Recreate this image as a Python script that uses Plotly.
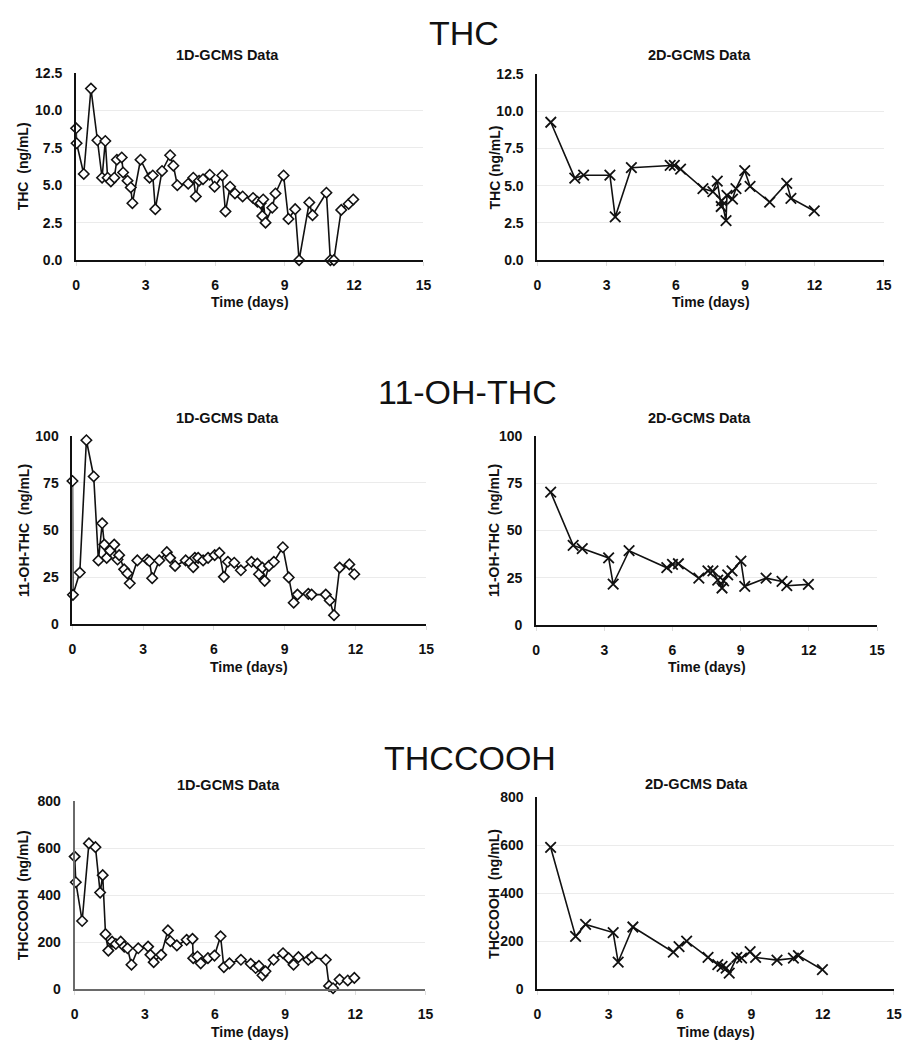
import plotly.graph_objects as go

# ---------------- data ----------------
thc_1d_days = [0.00, 0.02, 0.33, 0.64, 0.92, 1.12, 1.26, 1.36, 1.50, 1.65, 1.76, 1.97, 2.03, 2.22, 2.36, 2.43,
               2.78, 3.17, 3.31, 3.42, 3.71, 4.06, 4.20, 4.37, 4.84, 5.06, 5.17, 5.31, 5.48, 5.77, 5.98, 6.31,
               6.45, 6.65, 6.86, 7.19, 7.64, 7.83, 7.97, 8.04, 8.08, 8.18, 8.47, 8.61, 8.96, 9.17, 9.46, 9.63,
               10.07, 10.21, 10.81, 10.98, 11.13, 11.45, 11.77, 11.97]
thc_1d_vals = [8.8, 7.8, 5.75, 11.45, 8.0, 5.5, 7.95, 5.5, 5.25, 5.5, 6.7, 6.85, 5.85, 5.3, 4.85, 3.8,
               6.7, 5.5, 5.65, 3.4, 5.95, 7.0, 6.3, 5.0, 5.1, 5.5, 4.25, 5.3, 5.4, 5.7, 4.9, 5.65,
               3.25, 4.9, 4.45, 4.25, 4.15, 3.9, 3.8, 2.95, 4.05, 2.5, 3.5, 4.45, 5.65, 2.75, 3.4, 0.0,
               3.85, 3.0, 4.5, 0.0, 0.0, 3.35, 3.75, 4.05]

thc_2d_days = [0.58, 1.62, 2.00, 3.14, 3.37, 4.07, 5.75, 5.93, 6.20, 7.17, 7.60, 7.79, 7.96, 7.98, 8.17,
               8.21, 8.45, 8.60, 8.98, 9.21, 10.06, 10.80, 10.98, 11.99]
thc_2d_vals = [9.25, 5.5, 5.7, 5.7, 2.9, 6.2, 6.35, 6.35, 6.1, 4.8, 4.6, 5.3, 3.6, 4.0, 2.65,
               4.35, 4.1, 4.8, 6.0, 4.95, 3.9, 5.15, 4.15, 3.3]

oh_1d_days = [0.00, 0.02, 0.31, 0.59, 0.90, 1.10, 1.26, 1.35, 1.45, 1.59, 1.77, 1.91, 1.98, 2.19, 2.33, 2.43,
              2.75, 3.17, 3.26, 3.38, 3.68, 4.00, 4.14, 4.35, 4.80, 4.98, 5.12, 5.19, 5.33, 5.54, 5.75, 6.03,
              6.23, 6.42, 6.59, 6.86, 7.14, 7.59, 7.84, 7.91, 8.05, 8.15, 8.33, 8.54, 8.92, 9.17, 9.38, 9.54,
              10.00, 10.14, 10.74, 10.91, 11.09, 11.33, 11.74, 11.95]
oh_1d_vals = [76.0, 15.7, 27.5, 97.6, 78.4, 33.9, 53.6, 42.3, 35.3, 39.1, 42.3, 34.4, 36.7, 29.2, 27.0, 21.8,
              33.9, 34.4, 33.6, 24.5, 33.9, 38.3, 35.3, 31.0, 33.9, 32.7, 30.4, 35.3, 35.3, 33.9, 35.3, 36.7,
              37.9, 25.2, 33.2, 32.7, 28.7, 33.2, 32.2, 26.6, 30.1, 23.1, 31.0, 33.2, 40.9, 24.9, 11.5, 15.8,
              16.2, 15.8, 15.8, 12.7, 4.9, 30.1, 31.8, 26.6]

oh_2d_days = [0.64, 1.63, 2.03, 3.19, 3.39, 4.09, 5.75, 6.00, 6.26, 7.16, 7.56, 7.78, 7.99, 8.18, 8.25,
              8.43, 8.62, 9.01, 9.18, 10.12, 10.82, 11.03, 11.98]
oh_2d_vals = [70.2, 42.1, 40.4, 35.5, 21.7, 39.3, 30.3, 32.1, 32.4, 24.8, 28.6, 28.6, 23.8, 19.6, 23.4,
              26.5, 28.6, 33.8, 20.5, 24.8, 23.1, 20.8, 21.5]

cooh_1d_days = [0.00, 0.05, 0.32, 0.61, 0.89, 1.09, 1.20, 1.32, 1.44, 1.60, 1.76, 1.97, 2.12, 2.26, 2.43,
                2.72, 3.14, 3.24, 3.38, 3.70, 3.99, 4.09, 4.37, 4.79, 5.04, 5.07, 5.25, 5.39, 5.70, 5.98,
                6.24, 6.38, 6.62, 7.11, 7.53, 7.74, 7.88, 8.03, 8.16, 8.51, 8.91, 9.15, 9.36, 9.57, 9.99,
                10.14, 10.74, 10.88, 11.05, 11.33, 11.68, 11.96]
cooh_1d_vals = [565, 456, 291, 621, 605, 412, 486, 235, 165, 203, 193, 203, 182, 175, 105,
                175, 182, 147, 116, 147, 251, 205, 187, 211, 215, 133, 140, 111, 133, 144,
                226, 95, 111, 126, 109, 91, 100, 60, 77, 126, 154, 133, 105, 137, 126,
                137, 126, 15, 5, 42, 38, 49]

cooh_2d_days = [0.56, 1.61, 2.03, 3.19, 3.40, 4.02, 5.72, 5.96, 6.28, 7.18, 7.59, 7.77, 7.94, 8.07,
                8.39, 8.59, 8.95, 9.18, 10.08, 10.77, 10.98, 11.99]
cooh_2d_vals = [592, 221, 271, 237, 114, 260, 155, 178, 201, 133, 103, 96, 89, 68,
                133, 130, 157, 133, 122, 130, 141, 82]

x_ticks = [0, 3, 6, 9, 12, 15]
thc_ticks = [0, 2.5, 5, 7.5, 10, 12.5]
thc_tick_text = ["0.0", "2.5", "5.0", "7.5", "10.0", "12.5"]
oh_ticks = [0, 25, 50, 75, 100]
cooh_ticks = [0, 200, 400, 600, 800]

section_titles = ["THC", "11-OH-THC", "THCCOOH"]
panel_titles = ["1D-GCMS Data", "2D-GCMS Data"]
y_titles = [["THC  (ng/mL)", "THC (ng/mL)"],
            ["11-OH-THC  (ng/mL)", "11-OH-THC  (ng/mL)"],
            ["THCCOOH  (ng/mL)", "THCCOOH  (ng/mL)"]]

# ---------------- layout geometry ----------------
# The page body keeps the browser's default 8px margin, so the figure is
# sized to fill the 917x1050 window exactly; page coordinates are converted.
PAGE_W, PAGE_H = 917, 1050
M = 8
W, H = PAGE_W - 2 * M, PAGE_H - 2 * M


def fx(px):
    return (px - M) / W


def fy(py):
    return 1 - (py - M) / H


# page-pixel rectangles: (x0, x1, yTop, yBottom)
rects = [
    (73.0, 425.0, 65.7, 256.0),
    (540.5, 891.5, 66.7, 256.0),
    (69.3, 427.8, 434.3, 626.0),
    (539.2, 884.7, 434.3, 626.7),
    (71.5, 427.0, 805.7, 996.7),
    (540.4, 901.9, 801.7, 996.7),
]

FONT = "Liberation Sans, Arial, sans-serif"

series = [
    (thc_1d_days, thc_1d_vals, "1d"),
    (thc_2d_days, thc_2d_vals, "2d"),
    (oh_1d_days, oh_1d_vals, "1d"),
    (oh_2d_days, oh_2d_vals, "2d"),
    (cooh_1d_days, cooh_1d_vals, "1d"),
    (cooh_2d_days, cooh_2d_vals, "2d"),
]
y_ranges = [[0, 12.5], [0, 12.5], [0, 100], [0, 100], [0, 800], [0, 800]]
y_tickvals = [thc_ticks, thc_ticks, oh_ticks, oh_ticks, cooh_ticks, cooh_ticks]
y_ticktext = [thc_tick_text, thc_tick_text, [str(v) for v in oh_ticks], [str(v) for v in oh_ticks],
              [str(v) for v in cooh_ticks], [str(v) for v in cooh_ticks]]
axis_colors = ["#111111", "#111111", "#111111", "#111111", "#6a6a6a", "#111111"]

fig = go.Figure()
layout = dict(
    width=W, height=H,
    margin=dict(l=0, r=0, t=0, b=0),
    paper_bgcolor="white", plot_bgcolor="white",
    showlegend=False,
    font=dict(family=FONT, color="#111111"),
)

annotations = []

for i, ((x0, x1, yt, yb), (xs, ys, kind)) in enumerate(zip(rects, series)):
    n = i + 1
    xa = "xaxis" if n == 1 else f"xaxis{n}"
    ya = "yaxis" if n == 1 else f"yaxis{n}"
    xref = "x" if n == 1 else f"x{n}"
    yref = "y" if n == 1 else f"y{n}"
    if kind == "1d":
        marker = dict(symbol="diamond", size=8, color="white",
                      line=dict(color="#111111", width=1.6))
    else:
        marker = dict(symbol="x-thin", size=10.5, color="#111111",
                      line=dict(color="#111111", width=1.8))
    fig.add_trace(go.Scatter(
        x=xs, y=ys, mode="lines+markers", xaxis=xref, yaxis=yref,
        line=dict(color="#111111", width=1.6), marker=marker, cliponaxis=False,
    ))
    layout[xa] = dict(
        domain=[fx(x0), fx(x1)], anchor=yref, range=[0, 15],
        tickvals=x_ticks, showgrid=False, zeroline=False,
        showline=True, linecolor=axis_colors[i], linewidth=2,
        ticks="outside", ticklen=4, tickcolor="#dddddd", tickwidth=1,
        ticklabelstandoff=7,
        tickfont=dict(family=FONT, size=14, color="#111111", weight="bold"),
    )
    layout[ya] = dict(
        domain=[fy(yb), fy(yt)], anchor=xref, range=y_ranges[i],
        tickvals=y_tickvals[i], ticktext=y_ticktext[i],
        showgrid=True, gridcolor="#ebebeb", gridwidth=1, zeroline=False,
        showline=True, linecolor=axis_colors[i], linewidth=2,
        ticks="", ticklabelstandoff=9,
        tickfont=dict(family=FONT, size=14, color="#111111", weight="bold"),
    )
    row, col = divmod(i, 2)
    annotations.append(dict(
        text="Time (days)", xref="paper", yref="paper",
        x=fx((x0 + x1) / 2), y=fy(yb + 43), xanchor="center", yanchor="middle",
        showarrow=False, font=dict(family=FONT, size=14, color="#111111", weight="bold"),
    ))
    ytx = 20 if col == 0 else 497
    annotations.append(dict(
        text=y_titles[row][col], xref="paper", yref="paper", textangle=-90,
        x=fx(ytx), y=fy((yt + yb) / 2), xanchor="center", yanchor="middle",
        showarrow=False, font=dict(family=FONT, size=14, color="#111111", weight="bold"),
    ))

panel_title_pos = [(226, 48), (705, 48), (226, 416), (705, 416), (227, 789), (702, 788)]
for i, (px, py) in enumerate(panel_title_pos):
    annotations.append(dict(
        text=panel_titles[i % 2], xref="paper", yref="paper",
        x=fx(px), y=fy(py), xanchor="center", yanchor="middle", showarrow=False,
        font=dict(family=FONT, size=14.5, color="#111111", weight="bold"),
    ))

section_pos = [(466, 25), (470, 390), (472, 762)]
for t, (px, py) in zip(section_titles, section_pos):
    annotations.append(dict(
        text=t, xref="paper", yref="paper",
        x=fx(px), y=fy(py), xanchor="center", yanchor="middle", showarrow=False,
        font=dict(family=FONT, size=34, color="#111111"),
    ))

layout["annotations"] = annotations
fig.update_layout(**layout)
fig.write_html("out.html", config={"displayModeBar": False})
